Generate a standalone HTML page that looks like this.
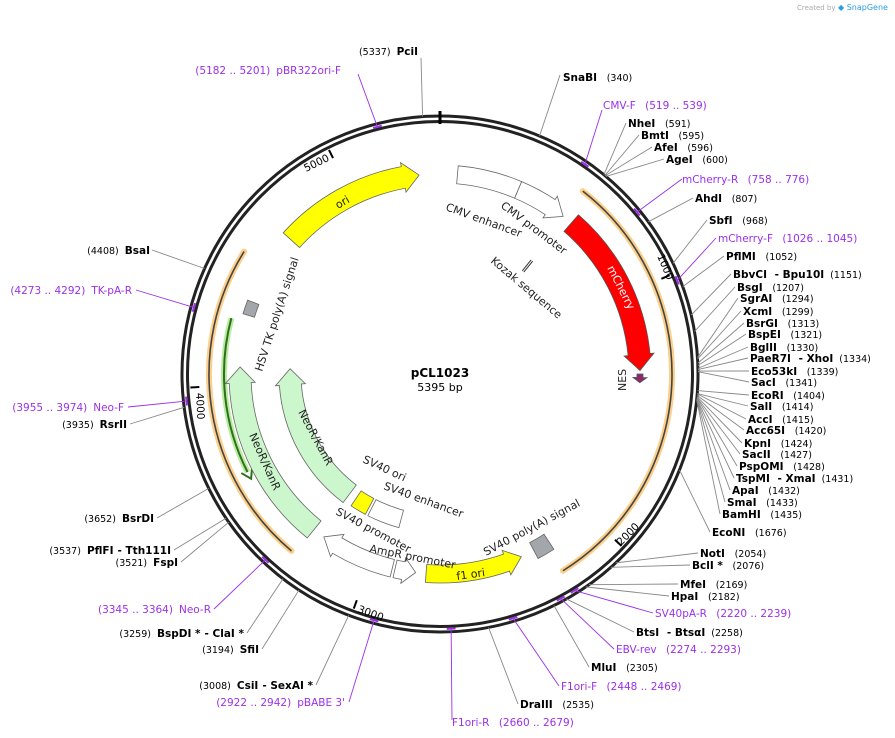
<!DOCTYPE html>
<html><head><meta charset="utf-8"><style>
html,body{margin:0;padding:0;background:#fff;}
svg{display:block;font-family:"DejaVu Sans","Liberation Sans",sans-serif;}
.e{font-size:10.5px;font-weight:bold;fill:#000}
.n{font-size:9.5px;font-weight:normal;fill:#000}
.p{font-size:10.5px;fill:#9b30e8}
.f{font-size:11px;fill:#222}
.t{font-size:10.5px;fill:#000}
</style></head><body>
<svg id="s" width="895" height="738" viewBox="0 0 895 738" xmlns="http://www.w3.org/2000/svg">
<g id="g"></g>
<text x="797" y="10" style="font-size:7px;fill:#aaa">Created by</text><text x="838" y="10" style="font-size:8px;fill:#2d9ce0">◆ SnapGene</text>
<text x="440" y="377" text-anchor="middle" style="font-size:12px;font-weight:bold">pCL1023</text>
<text x="440" y="391" text-anchor="middle" style="font-size:11px">5395 bp</text>
<text class="t" transform="translate(306,172) rotate(-26)">5000</text>
<text class="t" transform="translate(196,393) rotate(87)">4000</text>
<text class="t" transform="translate(357,612) rotate(20)">3000</text>
<text class="t" transform="translate(621,546) rotate(-45)">2000</text>
<text class="t" transform="translate(657,256) rotate(67)">1000</text>
<text class="f" transform="translate(445,210) rotate(20)">CMV enhancer</text>
<text class="f" transform="translate(500,207) rotate(37)">CMV promoter</text>
<text class="f" transform="translate(490,262) rotate(40)">Kozak sequence</text>
<text class="f" transform="translate(607,268) rotate(63)" style="fill:#fff">mCherry</text>
<text class="f" transform="translate(626,391) rotate(-90)">NES</text>
<text class="f" transform="translate(486,556) rotate(-28)">SV40 poly(A) signal</text>
<text class="f" transform="translate(457,580) rotate(-8)">f1 ori</text>
<text class="f" transform="translate(369,552) rotate(11)">AmpR promoter</text>
<text class="f" transform="translate(335,514) rotate(28)">SV40 promoter</text>
<text class="f" transform="translate(362,462) rotate(25)">SV40 ori</text>
<text class="f" transform="translate(383,489) rotate(20)">SV40 enhancer</text>
<text class="f" transform="translate(298,412) rotate(62)">NeoR/KanR</text>
<text class="f" transform="translate(249,435) rotate(66)">NeoR/KanR</text>
<text class="f" transform="translate(262,372) rotate(-72)">HSV TK poly(A) signal</text>
<text class="f" transform="translate(338,209) rotate(-30)">ori</text>
<text class="e" x="563" y="81">SnaBI <tspan class="n" dx="6">(340)</tspan></text>
<text class="p" x="603" y="109">CMV-F <tspan dx="6">(519 .. 539)</tspan></text>
<text class="e" x="628" y="127">NheI <tspan class="n" dx="6">(591)</tspan></text>
<text class="e" x="641" y="139">BmtI <tspan class="n" dx="6">(595)</tspan></text>
<text class="e" x="654" y="151">AfeI <tspan class="n" dx="6">(596)</tspan></text>
<text class="e" x="666" y="163">AgeI <tspan class="n" dx="6">(600)</tspan></text>
<text class="p" x="682" y="183">mCherry-R <tspan dx="6">(758 .. 776)</tspan></text>
<text class="e" x="695" y="202">AhdI <tspan class="n" dx="6">(807)</tspan></text>
<text class="e" x="709" y="224">SbfI <tspan class="n" dx="6">(968)</tspan></text>
<text class="p" x="718" y="242">mCherry-F <tspan dx="6">(1026 .. 1045)</tspan></text>
<text class="e" x="726" y="260">PflMI <tspan class="n" dx="6">(1052)</tspan></text>
<text class="e" x="733" y="278">BbvCI <tspan dx="4">- Bpu10I</tspan><tspan class="n" dx="6">(1151)</tspan></text>
<text class="e" x="737" y="291">BsgI <tspan class="n" dx="6">(1207)</tspan></text>
<text class="e" x="740" y="302">SgrAI <tspan class="n" dx="6">(1294)</tspan></text>
<text class="e" x="743" y="315">XcmI <tspan class="n" dx="6">(1299)</tspan></text>
<text class="e" x="746" y="327">BsrGI <tspan class="n" dx="6">(1313)</tspan></text>
<text class="e" x="748" y="338">BspEI <tspan class="n" dx="6">(1321)</tspan></text>
<text class="e" x="750" y="351">BglII <tspan class="n" dx="6">(1330)</tspan></text>
<text class="e" x="750" y="362">PaeR7I <tspan dx="4">- XhoI</tspan><tspan class="n" dx="6">(1334)</tspan></text>
<text class="e" x="751" y="375">Eco53kI <tspan class="n" dx="6">(1339)</tspan></text>
<text class="e" x="751" y="386">SacI <tspan class="n" dx="6">(1341)</tspan></text>
<text class="e" x="751" y="399">EcoRI <tspan class="n" dx="6">(1404)</tspan></text>
<text class="e" x="750" y="410">SalI <tspan class="n" dx="6">(1414)</tspan></text>
<text class="e" x="748" y="423">AccI <tspan class="n" dx="6">(1415)</tspan></text>
<text class="e" x="746" y="434">Acc65I <tspan class="n" dx="6">(1420)</tspan></text>
<text class="e" x="744" y="447">KpnI <tspan class="n" dx="6">(1424)</tspan></text>
<text class="e" x="742" y="458">SacII <tspan class="n" dx="6">(1427)</tspan></text>
<text class="e" x="739" y="470">PspOMI <tspan class="n" dx="6">(1428)</tspan></text>
<text class="e" x="736" y="482">TspMI <tspan dx="4">- XmaI</tspan><tspan class="n" dx="6">(1431)</tspan></text>
<text class="e" x="732" y="494">ApaI <tspan class="n" dx="6">(1432)</tspan></text>
<text class="e" x="727" y="506">SmaI <tspan class="n" dx="6">(1433)</tspan></text>
<text class="e" x="722" y="518">BamHI <tspan class="n" dx="6">(1435)</tspan></text>
<text class="e" x="712" y="536">EcoNI <tspan class="n" dx="6">(1676)</tspan></text>
<text class="e" x="700" y="557">NotI <tspan class="n" dx="6">(2054)</tspan></text>
<text class="e" x="692" y="569">BclI * <tspan class="n" dx="6">(2076)</tspan></text>
<text class="e" x="680" y="588">MfeI <tspan class="n" dx="6">(2169)</tspan></text>
<text class="e" x="671" y="600">HpaI <tspan class="n" dx="6">(2182)</tspan></text>
<text class="p" x="655" y="617">SV40pA-R <tspan dx="6">(2220 .. 2239)</tspan></text>
<text class="e" x="636" y="636">BtsI <tspan dx="4">- BtsαI</tspan><tspan class="n" dx="6">(2258)</tspan></text>
<text class="p" x="616" y="653">EBV-rev <tspan dx="6">(2274 .. 2293)</tspan></text>
<text class="e" x="591" y="671">MluI <tspan class="n" dx="6">(2305)</tspan></text>
<text class="p" x="561" y="690">F1ori-F <tspan dx="6">(2448 .. 2469)</tspan></text>
<text class="e" x="520" y="708">DraIII <tspan class="n" dx="6">(2535)</tspan></text>
<text class="p" x="452" y="726">F1ori-R <tspan dx="6">(2660 .. 2679)</tspan></text>
<text class="e" x="418" y="55" text-anchor="end"><tspan class="n">(5337)</tspan><tspan dx="6">PciI</tspan></text>
<text class="p" x="341" y="74" text-anchor="end">(5182 .. 5201)<tspan dx="6">pBR322ori-F</tspan></text>
<text class="e" x="150" y="254" text-anchor="end"><tspan class="n">(4408)</tspan><tspan dx="6">BsaI</tspan></text>
<text class="p" x="132" y="294" text-anchor="end">(4273 .. 4292)<tspan dx="6">TK-pA-R</tspan></text>
<text class="p" x="124" y="411" text-anchor="end">(3955 .. 3974)<tspan dx="6">Neo-F</tspan></text>
<text class="e" x="127" y="428" text-anchor="end"><tspan class="n">(3935)</tspan><tspan dx="6">RsrII</tspan></text>
<text class="e" x="154" y="522" text-anchor="end"><tspan class="n">(3652)</tspan><tspan dx="6">BsrDI</tspan></text>
<text class="e" x="171" y="554" text-anchor="end"><tspan class="n">(3537)</tspan><tspan dx="6">PflFI</tspan><tspan dx="4">- Tth111I</tspan></text>
<text class="e" x="178" y="566" text-anchor="end"><tspan class="n">(3521)</tspan><tspan dx="6">FspI</tspan></text>
<text class="p" x="211" y="613" text-anchor="end">(3345 .. 3364)<tspan dx="6">Neo-R</tspan></text>
<text class="e" x="244" y="637" text-anchor="end"><tspan class="n">(3259)</tspan><tspan dx="6">BspDI *</tspan><tspan dx="4">- ClaI *</tspan></text>
<text class="e" x="259" y="653" text-anchor="end"><tspan class="n">(3194)</tspan><tspan dx="6">SfiI</tspan></text>
<text class="e" x="313" y="689" text-anchor="end"><tspan class="n">(3008)</tspan><tspan dx="6">CsiI</tspan><tspan dx="4">- SexAI *</tspan></text>
<text class="p" x="345" y="706" text-anchor="end">(2922 .. 2942)<tspan dx="6">pBABE 3'</tspan></text>
</svg>
<script>
var NS="http://www.w3.org/2000/svg",g=document.getElementById("g"),cx=440,cy=374,L=5395;
function P(a,r){var t=a*Math.PI/180;return[cx+r*Math.sin(t),cy-r*Math.cos(t)];}
function el(n,at){var e=document.createElementNS(NS,n);for(var k in at)e.setAttribute(k,at[k]);g.appendChild(e);return e;}
function arcD(a1,a2,r){var p=P(a1,r),q=P(a2,r),lg=Math.abs(a2-a1)>180?1:0,sw=a2>a1?1:0;return"M"+p+" A"+r+","+r+" 0 "+lg+","+sw+" "+q;}
function feat(a1,a2,r,w,fill,head,stroke){
 var dir=a2>a1?1:-1,hl=head?Math.min(8/(r*Math.PI/180)*2,Math.abs(a2-a1)*0.6):0,ab=a2-dir*hl;
 var ri=r-w/2,ro=r+w/2,d;
 if(head){d="M"+P(a1,ro)+" A"+ro+","+ro+" 0 0,"+(dir>0?1:0)+" "+P(ab,ro)+" L"+P(ab,ro+4)+" L"+P(a2,r)+" L"+P(ab,ri-4)+" L"+P(ab,ri);}
 else d="M"+P(a1,ro)+" A"+ro+","+ro+" 0 0,"+(dir>0?1:0)+" "+P(a2,ro)+" L"+P(a2,ri);
 d+=" A"+ri+","+ri+" 0 0,"+(dir>0?0:1)+" "+P(a1,ri)+" Z";
 el("path",{d:d,fill:fill,stroke:stroke||"#666","stroke-width":0.8});
}
el("circle",{cx:cx,cy:cy,r:258,fill:"none",stroke:"#222","stroke-width":3});
el("circle",{cx:cx,cy:cy,r:252.5,fill:"none",stroke:"#222","stroke-width":3});
for(var i=0;i<=5;i++){var a=i*1000/L*360,p=P(a,250),q=P(a,i==0?263:241);el("line",{x1:p[0],y1:p[1],x2:q[0],y2:q[1],stroke:"#000","stroke-width":i==0?3:2});}
function hi(a1,a2,r,c){el("path",{d:arcD(a1,a2,r),fill:"none",stroke:c,"stroke-width":6,"stroke-linecap":"round"});el("path",{d:arcD(a1,a2,r),fill:"none",stroke:"#444","stroke-width":1.6});}
hi(38,148,232,"#fcd08a");hi(220,302,231,"#fcd08a");
el("path",{d:arcD(285,243,216),fill:"none",stroke:"#b6ec9c","stroke-width":6});
el("path",{d:arcD(285,243,216),fill:"none",stroke:"#2e6e1e","stroke-width":2});
var ah=P(241,216);el("path",{d:"M"+P(243.5,210)+" L"+ah+" L"+P(243.5,222),fill:"none",stroke:"#2e6e1e","stroke-width":2});
feat(5,23,200,18,"#fff",false);feat(23,38,200,18,"#fff",true);
feat(41,89,200,22,"#ff0000",true,"#555");
feat(90,92.5,200,6,"#8a2a6a",true,"#555");
feat(147,152,200,18,"#a3a6ab",false);
feat(184,156,200,18,"#ffff00",true);
feat(193,187,200,18,"#fff",true);
feat(193.8,215.5,200,18,"#fff",true);
feat(219,272,200,22,"#ccf7cc",true);
feat(217,272,150,22,"#ccf7cc",true);
feat(208,214,150,18,"#ffff00",false);feat(195,207,150,18,"#fff",false);
feat(287,291,200,12,"#a3a6ab",false);
feat(312,354,200,22,"#ffff00",true);
var k1=P(39,132),k2=P(39,146);el("line",{x1:k1[0],y1:k1[1],x2:k2[0],y2:k2[1],stroke:"#333","stroke-width":3});el("line",{x1:k1[0],y1:k1[1],x2:k2[0],y2:k2[1],stroke:"#fff","stroke-width":1});
var Ls=[[340,560,75],[519,602,110,1],[591,626,123],[595,639,135],[596,652,147],[600,664,159],[758,682,179,1],[807,693,198],[968,707,220],[1026,716,238,1],[1052,724,256],[1151,731,274],[1207,735,287],[1294,738,298],[1299,741,311],[1313,744,323],[1321,746,334],[1330,748,347],[1334,748,358],[1339,749,371],[1341,749,382],[1404,749,395],[1414,748,406],[1415,746,419],[1420,744,430],[1424,742,443],[1427,740,454],[1428,737,466],[1431,734,478],[1432,730,490],[1433,725,502],[1435,720,514],[1676,710,532],[2054,698,553],[2076,690,565],[2169,678,584],[2182,669,596],[2220,653,613,1],[2258,634,632],[2274,614,649,1],[2305,589,667],[2448,559,686,1],[2535,518,704],[2660,452,720,1],
[5337,421,58],[5182,358,74,1],[4408,152,250],[4273,136,290,1],[3955,128,407,1],[3935,130,424],[3652,157,518],[3537,174,550],[3521,181,562],[3345,214,609,1],[3259,247,633],[3194,262,649],[3008,316,685],[2922,349,702,1]];
Ls.forEach(function(l){var a=l[0]/L*360,p=P(a,l[3]?255:258);var c=l[3]?"#9b30e8":"#888";
 el("line",{x1:p[0],y1:p[1],x2:l[1],y2:l[2],stroke:c,"stroke-width":0.9});
 if(l[3]){var m1=P(a-1,255),m2=P(a+1,255);el("line",{x1:m1[0],y1:m1[1],x2:m2[0],y2:m2[1],stroke:c,"stroke-width":2});}
});
</script>
</body></html>
